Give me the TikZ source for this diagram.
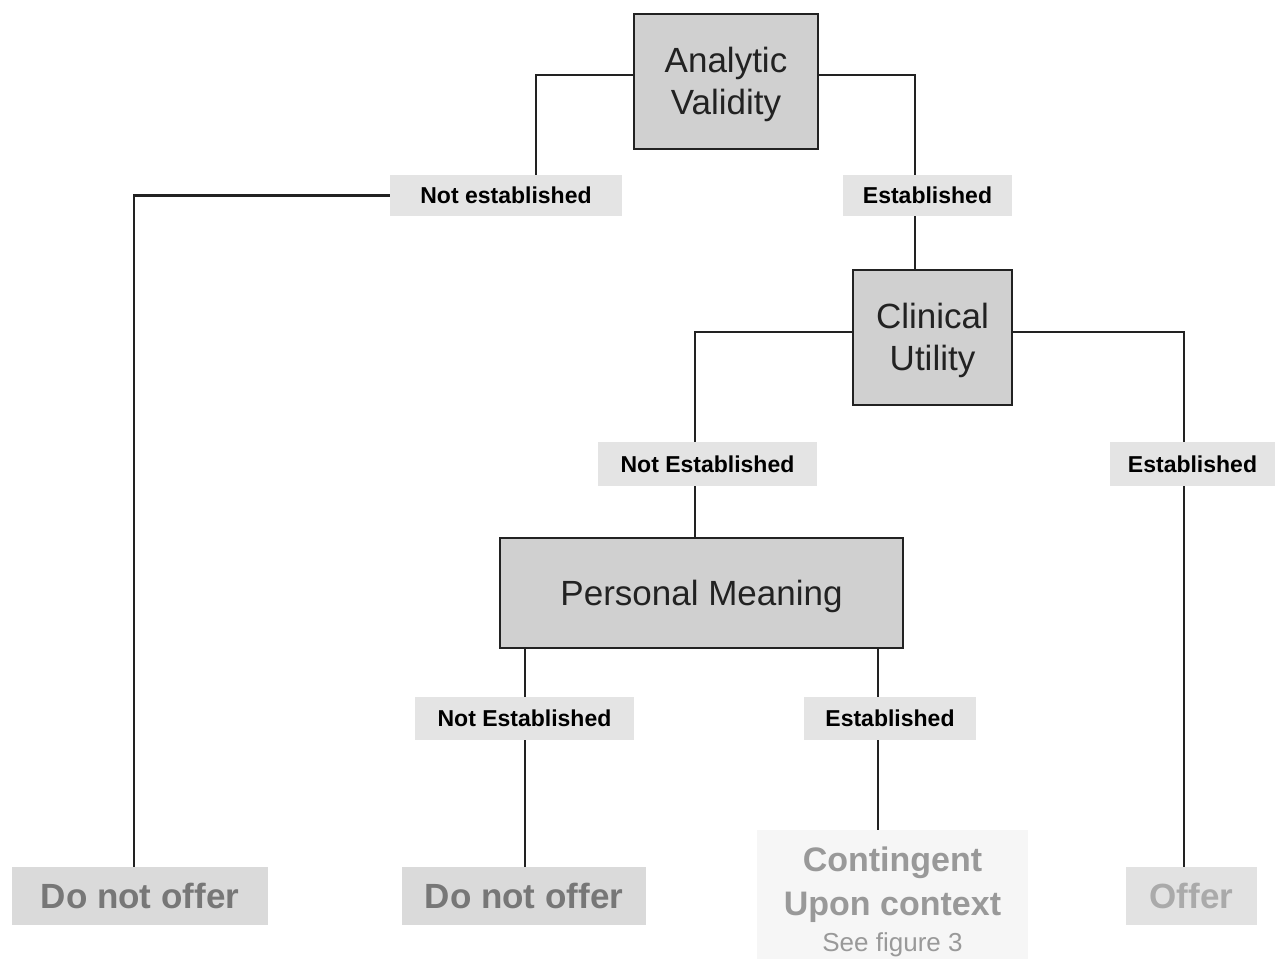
\documentclass[tikz,border=0pt]{standalone}
\usepackage{fontspec}
\setmainfont{Liberation Sans}
\usetikzlibrary{calc}
\definecolor{boxfill}{HTML}{D0D0D0}
\definecolor{lblfill}{HTML}{E4E4E4}
\definecolor{endfill}{HTML}{DADADA}
\definecolor{endtext}{HTML}{777777}
\definecolor{offfill}{HTML}{E2E2E2}
\definecolor{offtext}{HTML}{AAAAAA}
\definecolor{contfill}{HTML}{F6F6F6}
\definecolor{conttext}{HTML}{999999}
\definecolor{linec}{HTML}{222222}
\newcommand{\boxtxt}[1]{\raisebox{-4pt}[\height][\depth]{\begin{tabular}{@{}c@{}}#1\end{tabular}}}
\begin{document}
\begin{tikzpicture}[x=1pt,y=-1pt,
  mainbox/.style={draw=linec,line width=2.5pt,fill=boxfill,text=linec,inner sep=0pt,align=center,
    font=\fontsize{35}{42}\selectfont},
  lbl/.style={fill=lblfill,inner sep=0pt,font=\fontsize{23}{26}\selectfont\bfseries},
  endbox/.style={inner sep=0pt,align=center,font=\fontsize{35}{42}\selectfont\bfseries},
  conn/.style={draw=linec,line width=2.5pt}]
\useasboundingbox (0,0) rectangle (1275,959);
\node[mainbox,minimum width=184pt,minimum height=135pt] (av) at (726,81.5) {\boxtxt{Analytic\\Validity}};
\node[lbl,minimum width=232pt,minimum height=41pt] (ne1) at (506,195.5) {Not established};
\node[lbl,minimum width=169pt,minimum height=41pt] (e1) at (927.5,195.5) {Established};
\node[mainbox,minimum width=159pt,minimum height=135pt] (cu) at (932.5,337.5) {\boxtxt{Clinical\\Utility}};
\node[lbl,minimum width=219pt,minimum height=44pt] (ne2) at (707.5,464) {Not Established};
\node[lbl,minimum width=165pt,minimum height=44pt] (e2) at (1192.5,464) {Established};
\node[mainbox,minimum width=403pt,minimum height=110pt] (pm) at (701.5,593) {\boxtxt{Personal Meaning}};
\node[lbl,minimum width=219pt,minimum height=43pt] (ne3) at (524.5,718.5) {Not Established};
\node[lbl,minimum width=172pt,minimum height=43pt] (e3) at (890,718.5) {Established};
\node[endbox,fill=endfill,text=endtext,minimum width=256pt,minimum height=58pt] (dno1) at (140,896) {Do not offer};
\node[endbox,fill=endfill,text=endtext,minimum width=244pt,minimum height=58pt] (dno2) at (524,896) {Do not offer};
\node[endbox,fill=offfill,text=offtext,minimum width=131pt,minimum height=58pt] (offer) at (1191.5,896) {Offer};
\node[fill=contfill,inner sep=0pt,minimum width=271pt,minimum height=129pt] (cont) at (892.5,894.5) {};
\node[text=conttext,align=center,inner sep=0pt,font=\fontsize{34}{44}\selectfont\bfseries,anchor=north] (conttxt) at (892.5,847) {Contingent\\Upon context};
\node[text=conttext,inner sep=0pt,font=\fontsize{26}{30}\selectfont,anchor=north] (see) at (892.5,932) {See figure 3};
% connectors
\draw[conn] ([yshift=6.5pt]av.west) -| ($(ne1.north)+(30,0)$);
\draw[conn] ([yshift=6.5pt]av.east) -| ($(e1.north)+(-12.5,0)$);
\draw[conn] (ne1.west) -| ($(dno1.north)+(-6,0)$);
\draw[conn] ($(e1.south)+(-12.5,0)$) -- ($(cu.north)+(-17.5,0)$);
\draw[conn] ([yshift=5.5pt]cu.west) -| ($(ne2.north)+(-12.5,0)$);
\draw[conn] ([yshift=5.5pt]cu.east) -| ($(e2.north)+(-8.5,0)$);
\draw[conn] ($(ne2.south)+(-12.5,0)$) -- ($(pm.north)+(-6.5,0)$);
\draw[conn] ($(pm.south)+(-176.5,0)$) -- ($(ne3.north)+(0.5,0)$);
\draw[conn] ($(pm.south)+(176.5,0)$) -- ($(e3.north)+(-12,0)$);
\draw[conn] ($(ne3.south)+(0.5,0)$) -- ($(dno2.north)+(1,0)$);
\draw[conn] ($(e3.south)+(-12,0)$) -- ($(cont.north)+(-14.5,0)$);
\draw[conn] ($(e2.south)+(-8.5,0)$) -- ($(offer.north)+(-7.5,0)$);
\end{tikzpicture}
\end{document}
